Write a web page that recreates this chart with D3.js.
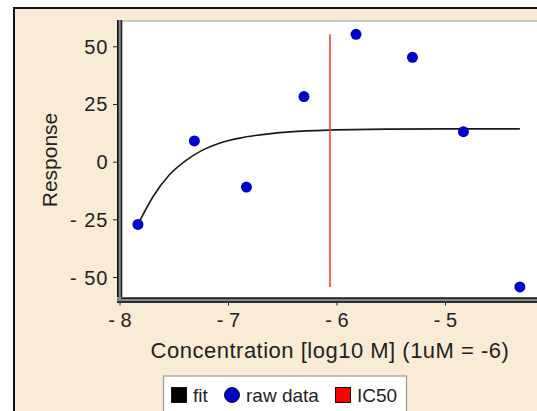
<!DOCTYPE html>
<html>
<head>
<meta charset="utf-8">
<script src="https://cdn.jsdelivr.net/npm/d3@7"></script>
<style>
  body { margin: 0; background: #fff; }
  text { font-family: Arial, "Liberation Sans", sans-serif; fill: #222; }
</style>
</head>
<body>
<div class="canvas"></div>
<script>
// raw data (log10 M concentration, response)
const rawX = [-7.83, -7.31, -6.83, -6.30, -5.82, -5.30, -4.83, -4.31];
const rawY = [-27.2, 9.0, -11.0, 28.2, 55.2, 45.2, 13.0, -54.3];

// fitted curve
const fitX = [-7.83, -7.69, -7.54, -7.38, -7.23, -7.08, -6.89, -6.75, -6.43, -6.06, -5.51, -5.0, -4.31];
const fitY = [-27.2, -15.1, -5.7, 0.8, 5.1, 8.0, 10.2, 11.3, 12.9, 13.7, 14.1, 14.2, 14.2];

const ic50 = -6.06;

const xTicks = [-8, -7, -6, -5];
const yTicks = [-50, -25, 0, 25, 50];

const legendItems = ["fit", "raw data", "IC50"];

const width = 537;
const height = 411;
const plot = { left: 122, top: 21, bottom: 298 };

const svg = d3
  .select(".canvas")
  .append("svg")
  .attr("width", width)
  .attr("height", height);

// outer panel
svg
  .append("rect")
  .attr("x", 14)
  .attr("y", 8)
  .attr("width", width + 20)
  .attr("height", height + 20)
  .attr("fill", "#faebd7")
  .attr("stroke", "#111")
  .attr("stroke-width", 2);

// plot area
svg
  .append("rect")
  .attr("x", plot.left)
  .attr("y", plot.top)
  .attr("width", width)
  .attr("height", plot.bottom - plot.top)
  .attr("fill", "#fff")
  .attr("stroke", "#999")
  .attr("stroke-width", 1);

const x = d3.scaleLinear().domain([-8, -4]).range([119.5, 119.5 + 4 * 108.5]);
const y = d3.scaleLinear().domain([-59.1, 61.4]).range([298, 20]);

// double frame lines on the left and bottom
const frame = svg.append("g");
frame.append("rect").attr("x", 117).attr("y", 20).attr("width", 5).attr("height", 283).attr("fill", "#888");
frame.append("line").attr("x1", 117.8).attr("x2", 117.8).attr("y1", 20).attr("y2", 303).attr("stroke", "#111").attr("stroke-width", 1.6);
frame.append("line").attr("x1", 121.4).attr("x2", 121.4).attr("y1", 20).attr("y2", 299.5).attr("stroke", "#222").attr("stroke-width", 1.4);
frame.append("rect").attr("x", 117).attr("y", 297).attr("width", width).attr("height", 6).attr("fill", "#888");
frame.append("line").attr("x1", 117).attr("x2", width).attr("y1", 302).attr("y2", 302).attr("stroke", "#111").attr("stroke-width", 1.6);
frame.append("line").attr("x1", 121).attr("x2", width).attr("y1", 298.3).attr("y2", 298.3).attr("stroke", "#222").attr("stroke-width", 1.4);

// axes
const xAxis = d3
  .axisBottom(x)
  .tickValues(xTicks)
  .tickSizeOuter(0)
  .tickSize(3)
  .tickFormat((d) => "- " + Math.abs(d));
const yAxis = d3
  .axisLeft(y)
  .tickValues(yTicks)
  .tickSizeOuter(0)
  .tickSize(4)
  .tickFormat((d) => (d < 0 ? "- " + Math.abs(d) : d));

const xAxisGroup = svg.append("g").attr("transform", "translate(0,302.5)").call(xAxis);
const yAxisGroup = svg.append("g").attr("transform", "translate(117,0)").call(yAxis);

[xAxisGroup, yAxisGroup].forEach((g) => {
  g.select(".domain").remove();
  g.selectAll("line").attr("stroke", "#222");
  g.selectAll("text")
    .style("font-family", "Arial, 'Liberation Sans', sans-serif")
    .attr("fill", "#222")
    .style("font-size", "20px");
});
xAxisGroup.selectAll("text").attr("y", 24.5).attr("dy", 0);
yAxisGroup.selectAll("text").attr("x", -8.5).attr("dy", "0.35em").style("letter-spacing", "1px");

// axis titles
svg
  .append("text")
  .attr("x", 330)
  .attr("y", 358)
  .attr("text-anchor", "middle")
  .style("font-size", "22px")
  .style("letter-spacing", "0.5px")
  .text("Concentration [log10 M] (1uM = -6)");

svg
  .append("text")
  .attr("transform", "translate(57,160) rotate(-90)")
  .attr("text-anchor", "middle")
  .style("font-size", "21px")
  .text("Response");

// fit curve
const fitData = fitX.map((v, i) => ({ x: v, y: fitY[i] }));
const line = d3
  .line()
  .x((d) => x(d.x))
  .y((d) => y(d.y))
  .curve(d3.curveMonotoneX);

svg
  .append("path")
  .datum(fitData)
  .attr("fill", "none")
  .attr("stroke", "#1a1a1a")
  .attr("stroke-width", 1.6)
  .attr("d", line);

// IC50 marker
const yExt = d3.extent(rawY);
svg
  .append("line")
  .attr("x1", x(ic50))
  .attr("x2", x(ic50))
  .attr("y1", y(yExt[1]))
  .attr("y2", y(yExt[0]))
  .attr("stroke", "#ff3030")
  .attr("stroke-width", 1.5);

// raw data points
const rawData = rawX.map((v, i) => ({ x: v, y: rawY[i] }));
svg
  .selectAll("circle.pt")
  .data(rawData)
  .enter()
  .append("circle")
  .attr("class", "pt")
  .attr("cx", (d) => x(d.x))
  .attr("cy", (d) => y(d.y))
  .attr("r", 5.5)
  .attr("fill", "#0000cc");

// legend
const legend = svg.append("g");
legend
  .append("rect")
  .attr("x", 163.5)
  .attr("y", 376)
  .attr("width", 243)
  .attr("height", 60)
  .attr("fill", "#fff")
  .attr("stroke", "#999")
  .attr("stroke-width", 1.2);

const legendX = [171, 224, 335];
legendItems.forEach((name, i) => {
  const g = legend.append("g").attr("transform", `translate(${legendX[i]},387)`);
  if (i === 1) {
    g.append("circle").attr("cx", 8).attr("cy", 8).attr("r", 7.5).attr("fill", "#0000cc").attr("stroke", "#111").attr("stroke-width", 1);
  } else {
    g.append("rect")
      .attr("x", 0.5)
      .attr("y", 0.5)
      .attr("width", 15)
      .attr("height", 15)
      .attr("fill", i === 0 ? "#000" : "#ff0000")
      .attr("stroke", "#111")
      .attr("stroke-width", 1);
  }
  g.append("text")
    .attr("x", 22)
    .attr("y", 15)
    .style("font-size", "19px")
    .text(name);
});
</script>
</body>
</html>
